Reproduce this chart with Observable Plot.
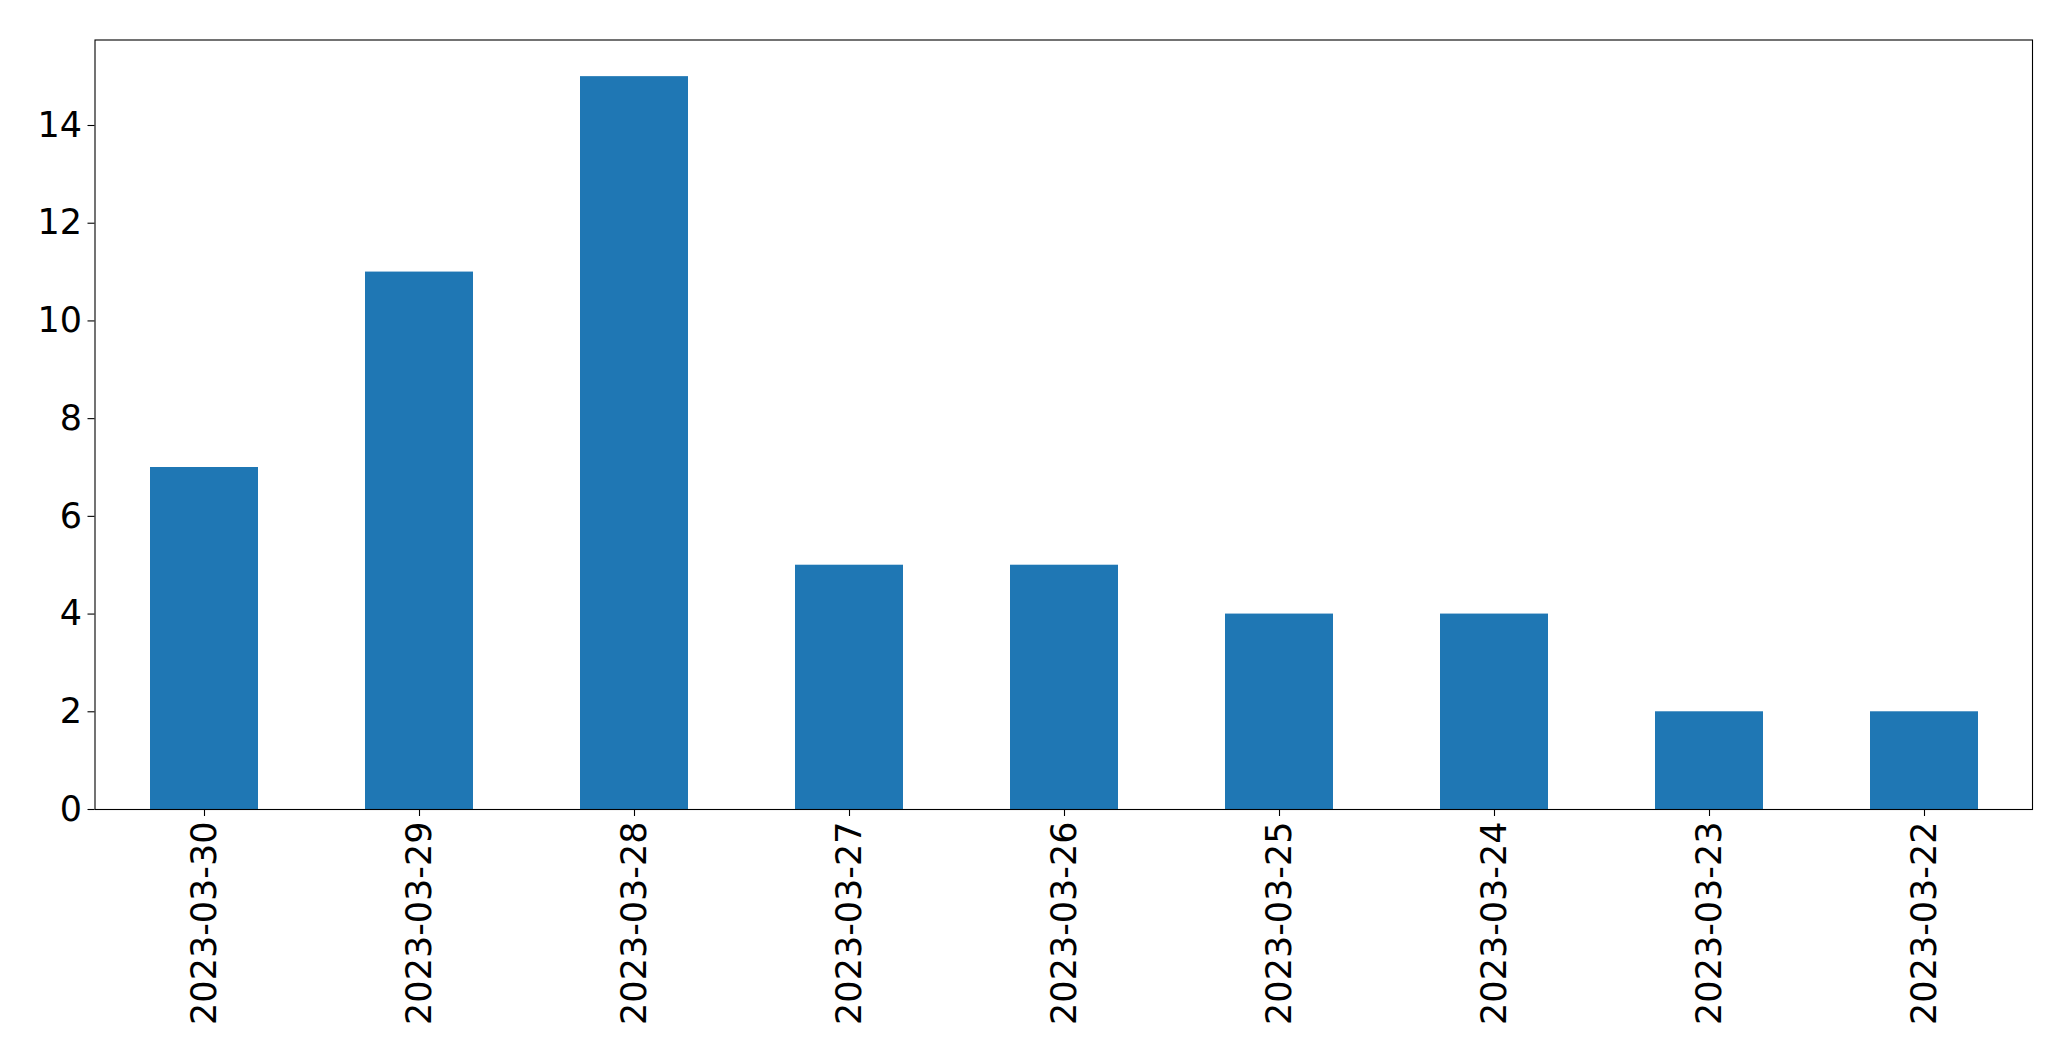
<!DOCTYPE html>
<html>
<head>
<meta charset="utf-8">
<script src="https://cdn.jsdelivr.net/npm/d3@7"></script>
<script src="https://cdn.jsdelivr.net/npm/@observablehq/plot@0.6"></script>
<style>
  html, body { margin: 0; padding: 0; background: #fff; }
  #chart svg { display: block; }
</style>
</head>
<body>
<div id="chart"></div>
<script>
const dates = ["2023-03-30","2023-03-29","2023-03-28","2023-03-27","2023-03-26","2023-03-25","2023-03-24","2023-03-23","2023-03-22"];
const counts = [7, 11, 15, 5, 5, 4, 4, 2, 2];
const yTicks = [0, 2, 4, 6, 8, 10, 12, 14];

const data = dates.map((d, i) => ({date: d, count: counts[i]}));

const chart = Plot.plot({
  width: 2071,
  height: 1061,
  marginLeft: 94.5,
  marginRight: 39,
  marginTop: 39.5,
  marginBottom: 252,
  style: {fontFamily: "DejaVu Sans", fontSize: "35px", background: "#fff", color: "#000"},
  x: {domain: dates, paddingInner: 0.5, paddingOuter: 0.25, label: null},
  y: {domain: [0, 15.75], label: null},
  marks: [
    Plot.barY(data, {x: "date", y: "count", fill: "#1f77b4"}),
    Plot.axisY({ticks: yTicks, tickSize: 7, tickPadding: 6, fontSize: 35, label: null, stroke: "#000", strokeWidth: 1.1}),
    Plot.axisX({tickSize: 7, tickPadding: 5, tickRotate: -90, fontSize: 35, label: null, stroke: "#000", strokeWidth: 1.1}),
    Plot.frame({stroke: "#000", strokeWidth: 1.1})
  ]
});
document.getElementById("chart").appendChild(chart);
</script>
</body>
</html>
